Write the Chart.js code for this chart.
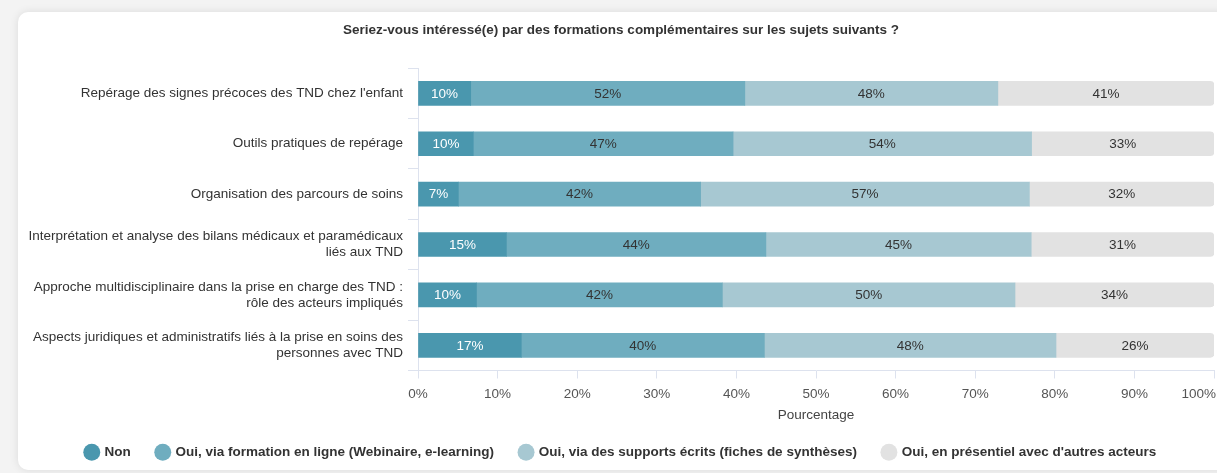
<!DOCTYPE html>
<html><head><meta charset="utf-8">
<script src="https://cdn.jsdelivr.net/npm/chart.js@4.4.1/dist/chart.umd.min.js"></script>
<style>
html,body{margin:0;padding:0;background:#f3f3f3;width:1217px;height:473px;overflow:hidden;}
#card{position:absolute;left:18px;top:12px;width:1260px;height:458px;background:#fff;border-radius:10px;box-shadow:0 0 8px rgba(0,0,0,0.10);}
#wrap{position:absolute;left:28px;top:12px;width:1200px;height:458px;}
</style></head><body>
<div id="card"></div>
<div id="wrap"><canvas id="c"></canvas></div>
<script>
const categories = [
  "Repérage des signes précoces des TND chez l'enfant",
  "Outils pratiques de repérage",
  "Organisation des parcours de soins",
  ["Interprétation et analyse des bilans médicaux et paramédicaux", "liés aux TND"],
  ["Approche multidisciplinaire dans la prise en charge des TND :", "rôle des acteurs impliqués"],
  ["Aspects juridiques et administratifs liés à la prise en soins des", "personnes avec TND"]
];
const seriesNames = [
  "Non",
  "Oui, via formation en ligne (Webinaire, e-learning)",
  "Oui, via des supports écrits (fiches de synthèses)",
  "Oui, en présentiel avec d'autres acteurs"
];
const nonValues = [10, 10, 7, 15, 10, 17];
const enLigneValues = [52, 47, 42, 44, 42, 40];
const ecritsValues = [48, 54, 57, 45, 50, 48];
const presentielValues = [41, 33, 32, 31, 34, 26];
const xTicks = [0,10,20,30,40,50,60,70,80,90,100];
const colors = ["#4a97ae", "#6fadbf", "#a7c8d2", "#e2e2e2"];

const FONT = '"Liberation Sans", Arial, sans-serif';
const raw = [nonValues, enLigneValues, ecritsValues, presentielValues];
const totals = categories.map((_, i) => raw.reduce((s, arr) => s + arr[i], 0));

const datasets = raw.map((arr, k) => ({
  label: seriesNames[k],
  rawValues: arr,
  data: arr.map((v, i) => v / totals[i] * 100),
  backgroundColor: colors[k],
  borderWidth: 0,
  borderRadius: k === 3 ? 4 : 0,
  borderSkipped: k === 3 ? 'start' : true,
  barThickness: 24
}));

const labelPlugin = {
  id: 'segLabels',
  afterDatasetsDraw(chart) {
    const ctx = chart.ctx;
    ctx.save();
    ctx.font = '13.5px ' + FONT;
    ctx.textAlign = 'center';
    ctx.textBaseline = 'middle';
    chart.data.datasets.forEach((ds, k) => {
      const meta = chart.getDatasetMeta(k);
      meta.data.forEach((el, i) => {
        ctx.fillStyle = k === 0 ? '#ffffff' : '#333333';
        ctx.fillText(ds.rawValues[i] + '%', (el.x + el.base) / 2, el.y + 0.5);
      });
    });
    // x tick labels (last one kept inside the frame)
    const xs = chart.scales.x;
    ctx.fillStyle = '#555';
    xTicks.forEach((v, idx) => {
      const px = xs.getPixelForValue(v);
      if (idx === xTicks.length - 1) { ctx.textAlign = 'right'; ctx.fillText(v + '%', px + 2, xs.top + 24); }
      else { ctx.textAlign = 'center'; ctx.fillText(v + '%', px, xs.top + 24); }
    });
    ctx.restore();
  }
};

new Chart(document.getElementById('c'), {
  type: 'bar',
  data: { labels: categories, datasets },
  plugins: [labelPlugin],
  options: {
    indexAxis: 'y',
    responsive: true,
    maintainAspectRatio: false,
    animation: false,
    layout: { padding: { left: 0, right: 14, top: 0, bottom: 1 } },
    scales: {
      x: {
        stacked: true,
        min: 0, max: 100,
        afterBuildTicks(scale) { scale.ticks = xTicks.map(v => ({ value: v })); },
        afterFit(scale) { scale.height = 49; },
        ticks: { display: false },
        grid: { drawOnChartArea: false, color: '#dde2ee', tickLength: 8 },
        border: { color: '#dde2ee' },
        title: { display: true, text: 'Pourcentage', color: '#444', font: { size: 13.5, family: FONT }, padding: { top: 0, bottom: -3.5 } }
      },
      y: {
        stacked: true,
        afterFit(scale) { scale.width = 390; },
        ticks: { color: '#333', font: { size: 13.5, family: FONT }, padding: 5 },
        grid: { offset: true, drawOnChartArea: false, color: '#dde2ee', tickLength: 10 },
        border: { color: '#dde2ee' }
      }
    },
    plugins: {
      title: {
        display: true,
        text: "Seriez-vous intéressé(e) par des formations complémentaires sur les sujets suivants ?",
        color: '#333',
        font: { size: 13.5, weight: 'bold', family: FONT },
        padding: { top: 10, bottom: 30 }
      },
      legend: {
        position: 'bottom',
        labels: {
          usePointStyle: true,
          pointStyle: 'circle',
          boxWidth: 12, boxHeight: 12,
          padding: 26,
          color: '#333',
          font: { size: 13.5, weight: 'bold', family: FONT }
        }
      },
      tooltip: { enabled: false }
    }
  }
});
</script>
</body></html>
